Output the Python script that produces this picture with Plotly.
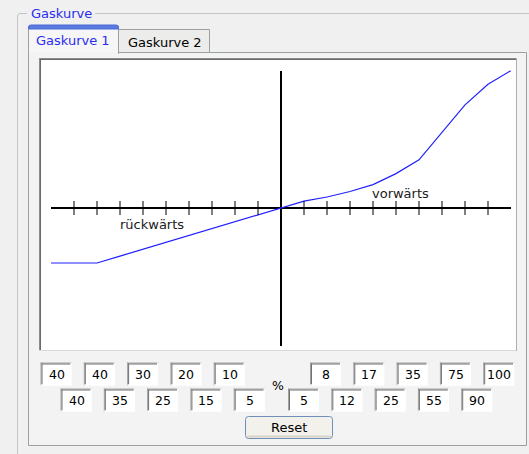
import plotly.graph_objects as go

# ---------------- data ----------------
rueck_oben = [40, 40, 30, 20, 10]    # reverse, upper row of boxes (from left)
rueck_unten = [40, 35, 25, 15, 5]    # reverse, lower row of boxes (from left)
vor_oben = [8, 17, 35, 75, 100]      # forward, upper row of boxes
vor_unten = [5, 12, 25, 55, 90]      # forward, lower row of boxes
x_rueck = [-100, -90, -80, -70, -60, -50, -40, -30, -20, -10]
x_vor = [10, 20, 30, 40, 50, 60, 70, 80, 90, 100]
tick_x = [-90, -80, -70, -60, -50, -40, -30, -20, -10, 10, 20, 30, 40, 50, 60, 70, 80, 90]

W, H = 529, 454
FONT = "DejaVu Sans"
BLUE_TXT = "#2b2bf0"
BG = "#f0f0f0"


def px(x):
    return x / W


def py(y):
    return 1 - y / H


# interleave rows into the curve (left: upper, lower, upper, ...)
rueck_vals = []
for a, b in zip(rueck_oben, rueck_unten):
    rueck_vals += [a, b]
vor_vals = []
for a, b in zip(vor_unten, vor_oben):
    vor_vals += [a, b]

curve_x = x_rueck + [0] + x_vor
curve_y = [-v for v in rueck_vals] + [0] + vor_vals

fig = go.Figure()
fig.add_trace(go.Scatter(x=curve_x, y=curve_y, mode="lines",
                         line=dict(color="#2020ff", width=1.2),
                         hoverinfo="skip", showlegend=False))
fig.add_trace(go.Scatter(x=tick_x, y=[0] * len(tick_x), mode="markers",
                         marker=dict(symbol="line-ns", size=10,
                                     line=dict(width=1, color="black")),
                         hoverinfo="skip", showlegend=False))

shapes = []
annotations = []


def rect(x0, y0, x1, y1, fill=None, line=None, lw=1, layer="below"):
    shapes.append(dict(type="rect", xref="paper", yref="paper",
                       x0=px(x0), x1=px(x1), y0=py(y1), y1=py(y0),
                       fillcolor=fill if fill else "rgba(0,0,0,0)",
                       line=dict(color=line if line else "rgba(0,0,0,0)",
                                 width=lw if line else 0),
                       layer=layer))


def hline(x0, x1, y, color, lw=1, layer="below"):
    shapes.append(dict(type="line", xref="paper", yref="paper",
                       x0=px(x0), x1=px(x1), y0=py(y), y1=py(y),
                       line=dict(color=color, width=lw), layer=layer))


def vline(x, y0, y1, color, lw=1, layer="below"):
    shapes.append(dict(type="line", xref="paper", yref="paper",
                       x0=px(x), x1=px(x), y0=py(y0), y1=py(y1),
                       line=dict(color=color, width=lw), layer=layer))


def text(x, y, s, size=13, color="black", xanchor="center"):
    annotations.append(dict(x=px(x), y=py(y), xref="paper", yref="paper",
                            text=s, showarrow=False, xanchor=xanchor,
                            yanchor="middle",
                            font=dict(family=FONT, size=size, color=color)))


# group box frame
shapes.append(dict(type="path", xref="paper", yref="paper",
                   path=f"M {px(17.5)} {py(460)} L {px(17.5)} {py(16)} "
                        f"Q {px(17.5)} {py(13.5)} {px(20)} {py(13.5)} L {px(27)} {py(13.5)}",
                   line=dict(color="#c4c4c4", width=1), layer="below"))
hline(95, 529, 13.5, "#c4c4c4")
text(61, 13, "Gaskurve", size=13, color=BLUE_TXT)

# tab panel
rect(28.5, 52.5, 526.5, 445.5, fill="#f3f3f3", line="#9aa0a2")

# tab 2 (unselected)
rect(118.5, 29.5, 209.5, 52.5, fill="#ececea", line="#9aa0a2")
text(164.5, 42, "Gaskurve 2", size=13)

# tab 1 (selected)
rect(28.5, 27.5, 118.5, 53.5, fill="#f6f6f6", line="#9aa0a2")
hline(29, 118, 53, "#f3f3f3", lw=2)
shapes.append(dict(type="path", xref="paper", yref="paper",
                   path=f"M {px(28.5)} {py(29)} L {px(28.5)} {py(27)} "
                        f"Q {px(28.5)} {py(25)} {px(31)} {py(25)} L {px(116)} {py(25)} "
                        f"Q {px(118.5)} {py(25)} {px(118.5)} {py(27)} L {px(118.5)} {py(29)} Z",
                   fillcolor="#5a7ae0", line=dict(color="#4a6ad8", width=1), layer="below"))
text(73, 40, "Gaskurve 1", size=13, color=BLUE_TXT)

# chart white box (sunken)
rect(39, 58, 517, 351, fill="white")
hline(39, 517, 58.5, "#8c8c8c")
vline(39.5, 58, 351, "#8c8c8c")
hline(40, 516, 59.5, "#6a6a6a")
vline(40.5, 59, 350, "#6a6a6a")
hline(39, 517, 350.5, "#d8d8d8")
vline(516.5, 58, 351, "#b0b0b0")

text(152, 224, "rückwärts", size=13, color="#202020")
text(400, 193, "vorwärts", size=13, color="#202020")


# value boxes
def vbox(x0, y0, val):
    w, h = 31, 23
    rect(x0, y0, x0 + w, y0 + h, fill="white")
    hline(x0, x0 + w, y0 + 0.5, "#a0a0a0")
    vline(x0 + 0.5, y0, y0 + h, "#a0a0a0")
    hline(x0 + 1, x0 + w - 1, y0 + 1.5, "#707070")
    vline(x0 + 1.5, y0 + 1, y0 + h - 1, "#707070")
    hline(x0, x0 + w, y0 + h - 0.5, "#ffffff")
    vline(x0 + w - 0.5, y0, y0 + h, "#ffffff")
    text(x0 + w / 2 + 0.5, y0 + h / 2 + 0.5, str(val), size=12.5)


pitch = 43.3
for i, v in enumerate(rueck_oben):
    vbox(40.5 + pitch * i, 362.5, v)
for i, v in enumerate(rueck_unten):
    vbox(60.5 + pitch * i, 388.5, v)
for i, v in enumerate(vor_oben):
    vbox(310 + pitch * i, 362.5, v)
for i, v in enumerate(vor_unten):
    vbox(288 + pitch * i, 388.5, v)

text(277.5, 385, "%", size=12.5)

# Reset button
bx0, by0, bx1, by1, r = 245.5, 416.5, 332.5, 438.5, 3
shapes.append(dict(type="path", xref="paper", yref="paper",
                   path=(f"M {px(bx0 + r)} {py(by0)} L {px(bx1 - r)} {py(by0)} "
                         f"Q {px(bx1)} {py(by0)} {px(bx1)} {py(by0 + r)} L {px(bx1)} {py(by1 - r)} "
                         f"Q {px(bx1)} {py(by1)} {px(bx1 - r)} {py(by1)} L {px(bx0 + r)} {py(by1)} "
                         f"Q {px(bx0)} {py(by1)} {px(bx0)} {py(by1 - r)} L {px(bx0)} {py(by0 + r)} "
                         f"Q {px(bx0)} {py(by0)} {px(bx0 + r)} {py(by0)} Z"),
                   fillcolor="#f2f1ec", line=dict(color="#6f8fb8", width=1), layer="below"))
hline(247, 331, 436.5, "#d8d4c8", lw=2)
text(288.5, 427.5, "Reset", size=13)

fig.update_layout(
    width=W, height=H,
    margin=dict(l=0, r=0, t=0, b=0, pad=0),
    paper_bgcolor=BG,
    plot_bgcolor="rgba(0,0,0,0)",
    showlegend=False,
    shapes=shapes,
    annotations=annotations,
    xaxis=dict(domain=[px(51), px(511)], range=[-100, 100],
               showgrid=False, showticklabels=False, ticks="",
               zeroline=True, zerolinecolor="black", zerolinewidth=2.4,
               showline=False, fixedrange=True),
    yaxis=dict(domain=[py(345.5), py(70.5)], range=[-100, 100],
               showgrid=False, showticklabels=False, ticks="",
               zeroline=True, zerolinecolor="black", zerolinewidth=2.2,
               showline=False, fixedrange=True),
)

fig.write_html("out.html", config={"displayModeBar": False},
               post_script="document.body.style.margin='0';document.body.style.padding='0';"
                           "document.body.style.background='" + BG + "';")
